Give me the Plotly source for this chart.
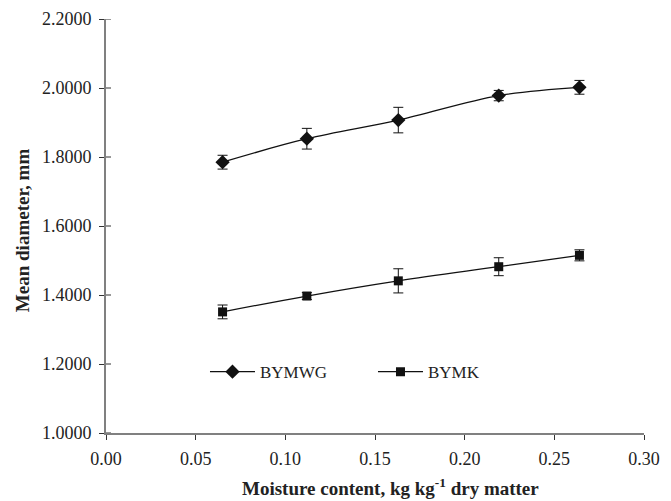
import plotly.graph_objects as go

moisture = [0.065, 0.112, 0.163, 0.219, 0.264]
bymwg = [1.785, 1.853, 1.907, 1.978, 2.002]
bymwg_err = [0.020, 0.030, 0.037, 0.015, 0.020]
bymk = [1.351, 1.397, 1.441, 1.482, 1.515]
bymk_err = [0.020, 0.010, 0.035, 0.026, 0.016]

y_ticks = [1.0, 1.2, 1.4, 1.6, 1.8, 2.0, 2.2]
x_ticks = [0.0, 0.05, 0.10, 0.15, 0.20, 0.25, 0.30]

x_title = "<b>Moisture content, kg kg<sup>-1</sup> dry matter</b>"
y_title = "<b>Mean diameter, mm</b>"

FONT = "Liberation Serif"
INK = "#111111"
TXT = "#222222"

fig = go.Figure()
fig.add_trace(go.Scatter(
    x=moisture, y=bymwg, name="BYMWG", mode="lines+markers",
    line=dict(color=INK, width=1.3, shape="spline"),
    marker=dict(symbol="diamond", size=11, color=INK),
    error_y=dict(type="data", array=bymwg_err, color=INK, thickness=1, width=5),
))
fig.add_trace(go.Scatter(
    x=moisture, y=bymk, name="BYMK", mode="lines+markers",
    line=dict(color=INK, width=1.3, shape="spline"),
    marker=dict(symbol="square", size=9, color=INK),
    error_y=dict(type="data", array=bymk_err, color=INK, thickness=1, width=5),
))

# inner half of the y-axis "cross" tick marks
inner_ticks = [
    dict(type="line", xref="paper", xsizemode="pixel", xanchor=0, x0=0, x1=5,
         yref="y", y0=v, y1=v, line=dict(color="#333333", width=1))
    for v in y_ticks
]

fig.update_layout(
    width=663, height=493,
    margin=dict(l=98, r=27, t=11, b=68, autoexpand=False),
    paper_bgcolor="white", plot_bgcolor="white",
    font=dict(family=FONT, size=18, color=TXT),
    showlegend=True,
    legend=dict(orientation="h", x=0.184, y=0.147, xanchor="left", yanchor="middle",
                font=dict(family=FONT, size=17, color=TXT),
                itemwidth=45,
                entrywidth=108, entrywidthmode="pixels",
                bgcolor="rgba(0,0,0,0)"),
    shapes=inner_ticks,
    annotations=[
        dict(text=x_title, xref="paper", yref="paper", x=0.528, y=0,
             yshift=-54, xanchor="center", yanchor="middle", showarrow=False,
             font=dict(family=FONT, size=19, color=TXT)),
        dict(text=y_title, xref="paper", yref="paper", x=0, y=0.49,
             xshift=-84, xanchor="center", yanchor="middle", textangle=-90,
             showarrow=False, font=dict(family=FONT, size=19, color=TXT)),
    ],
)
fig.update_xaxes(
    range=[0, 0.30], tickvals=x_ticks, tickformat=".2f", automargin=False,
    tickfont=dict(family=FONT, size=18, color=TXT), ticklabelstandoff=3,
    showline=True, linecolor="#808080", linewidth=2,
    ticks="outside", ticklen=5, tickcolor="#333333", showgrid=False, zeroline=False,
)
fig.update_yaxes(
    range=[1.0, 2.2], tickvals=y_ticks, tickformat=".4f", automargin=False,
    tickfont=dict(family=FONT, size=18, color=TXT), ticklabelstandoff=4,
    showline=True, linecolor="#808080", linewidth=2,
    ticks="outside", ticklen=5, tickcolor="#333333", showgrid=False, zeroline=False,
)

fig.write_html("out.html")
